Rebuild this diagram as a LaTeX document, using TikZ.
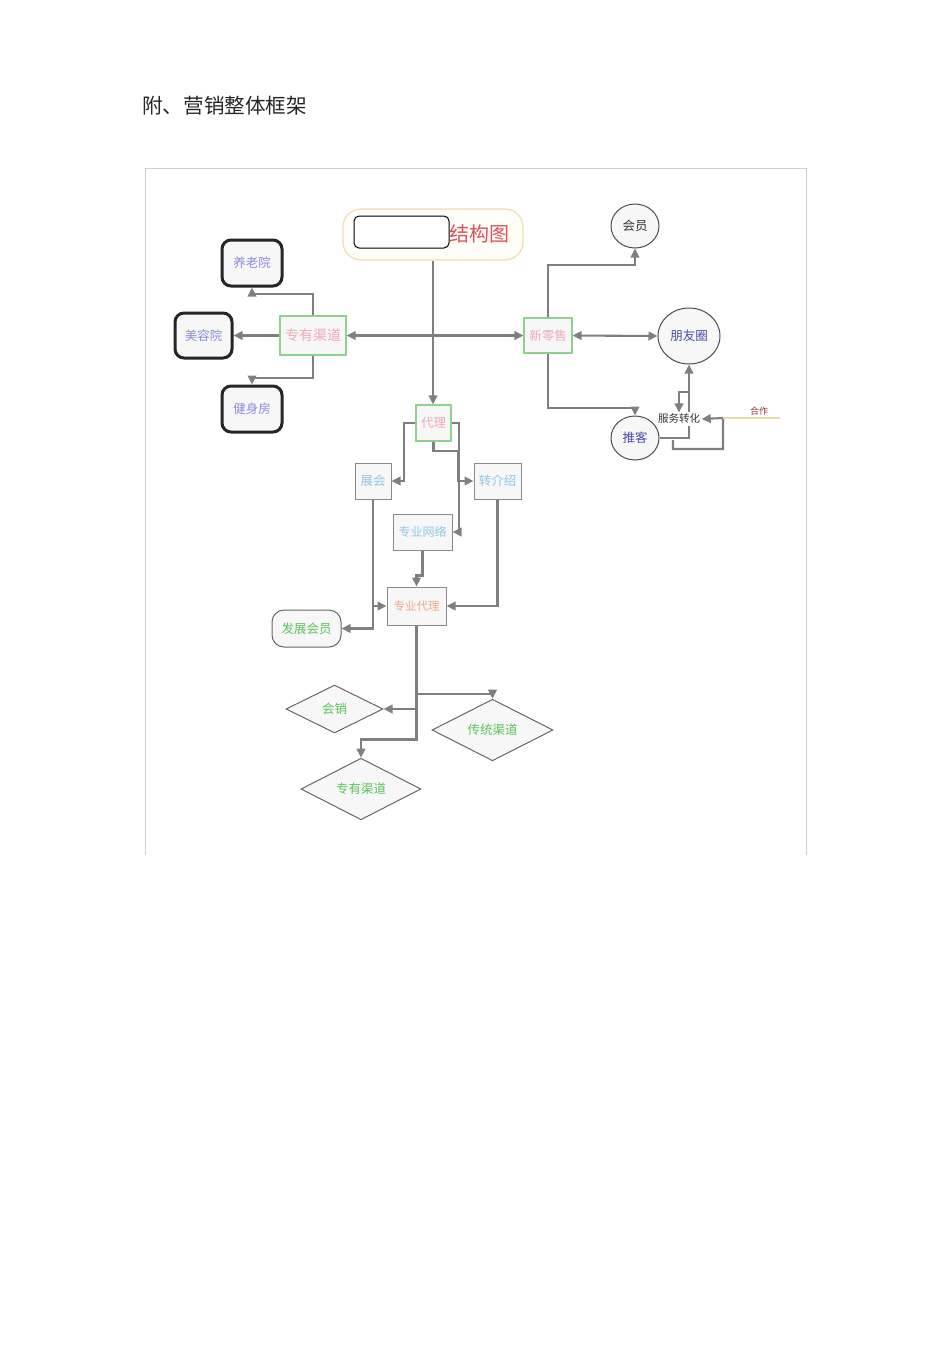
\documentclass[tikz,border=0pt]{standalone}
\usepackage{fontspec}
\setmainfont{Noto Sans CJK SC}
\usetikzlibrary{shapes.geometric,arrows.meta}
\definecolor{lnc}{HTML}{7F7F7F}
\definecolor{grnb}{HTML}{8FD18F}
\definecolor{boxf}{HTML}{F7F7F7}
\definecolor{pinkt}{HTML}{F2A7B8}
\definecolor{purt}{HTML}{8A8AE0}
\definecolor{bluet}{HTML}{8FC6E6}
\definecolor{salt}{HTML}{F2A88A}
\definecolor{grnt}{HTML}{5CC25C}
\definecolor{dpur}{HTML}{4A4AA8}
\definecolor{titr}{HTML}{E0505A}
\definecolor{titb}{HTML}{F0DCB0}
\definecolor{titf}{HTML}{FFFDF7}
\definecolor{frm}{HTML}{D0D0D0}
\definecolor{hzl}{HTML}{E8E0A0}
\definecolor{hzt}{HTML}{A03030}
\definecolor{gbord}{HTML}{8A8A8A}
\tikzset{
  x=1pt,y=-1pt,
  every node/.style={font=\fontsize{12.5}{14}\selectfont, inner sep=0pt},
  gbox/.style={draw=grnb, line width=1.2pt, fill=boxf, text=pinkt},
  qbox/.style={draw=gbord, line width=1pt, fill=boxf, text=bluet},
  thick rbox/.style={draw=black!85, line width=3pt, rounded corners=9pt, fill=boxf, text=purt, minimum width=60pt, minimum height=46pt},
  ell/.style={ellipse, draw=black!70, line width=1pt, fill=boxf},
  dia/.style={diamond, draw=black!60, line width=1pt, fill=boxf, text=grnt},
  arr/.style={draw=lnc, line width=2.1pt, -{Triangle[length=9pt,width=8.5pt]}},
  darr/.style={draw=lnc, line width=2.1pt, {Triangle[length=9pt,width=8.5pt]}-{Triangle[length=9pt,width=8.5pt]}},
  plain/.style={draw=lnc, line width=2.1pt},
}
\begin{document}
\begin{tikzpicture}
\useasboundingbox (0,0) rectangle (950,1345);
% header
\node[anchor=west, font=\fontsize{20.6}{24}\selectfont, text=black!85] (head) at (142,106) {附、营销整体框架};
% frame
\draw[frm, line width=1pt] (145,855) -- (145,168) -- (806,168) -- (806,855);
% title
\node[draw=titb, line width=1.2pt, fill=titf, rounded corners=18pt, minimum width=180pt, minimum height=51pt] (title) at (433,234.5) {};
\node[draw=black, line width=1pt, fill=white, rounded corners=5pt, minimum width=95pt, minimum height=32pt] (blank) at (401.5,232) {};
\node[text=titr, font=\fontsize{20}{24}\selectfont] (titletxt) at (479,234) {结构图};
% left branch
\node[gbox, minimum width=66pt, minimum height=39pt, font=\fontsize{14}{16}\selectfont] (zyqd) at (313,335.5) {专有渠道};
\node[thick rbox] (yly) at (252,263) {养老院};
\node[thick rbox, minimum width=57pt, minimum height=45pt] (mry) at (203.5,335.5) {美容院};
\node[thick rbox] (jsf) at (252,409) {健身房};
% right branch
\node[gbox, minimum width=48pt, minimum height=35pt] (xls) at (548,335.5) {新零售};
\node[ell, minimum width=48pt, minimum height=44pt, text=black!80] (hy) at (635,226) {会员};
\node[ell, minimum width=62pt, minimum height=56pt, text=dpur] (pyq) at (689,336) {朋友圈};
\node[ell, minimum width=48pt, minimum height=44pt, text=dpur] (tk) at (635,438) {推客};
\node[fill=white, inner sep=1.5pt, font=\fontsize{10.5}{12}\selectfont, text=black!80] (fwzh) at (679,419) {服务转化};
\node[font=\fontsize{9}{10}\selectfont, text=hzt] (hz) at (759,411) {合作};
% middle
\node[gbox, minimum width=35pt, minimum height=36pt] (daili) at (433.5,423) {代理};
\node[qbox, minimum width=36pt, minimum height=36pt] (zh) at (373,481) {展会};
\node[qbox, minimum width=47pt, minimum height=36pt] (zjs) at (497.5,481) {转介绍};
\node[qbox, minimum width=59pt, minimum height=36pt, font=\fontsize{12}{14}\selectfont] (zywl) at (422.5,532) {专业网络};
\node[qbox, minimum width=59pt, minimum height=38pt, text=salt, font=\fontsize{11.5}{14}\selectfont] (zydl) at (416.5,606) {专业代理};
\node[draw=black!60, line width=1pt, fill=boxf, rounded corners=12pt, text=grnt, minimum width=69pt, minimum height=37pt] (fzhy) at (306.5,628.5) {发展会员};
% diamonds
\node[dia, minimum width=97pt, minimum height=48pt] (hx) at (334.5,709) {会销};
\node[dia, minimum width=121pt, minimum height=60pt] (ctqd) at (492.5,730) {传统渠道};
\node[dia, minimum width=120pt, minimum height=60pt] (zyqd2) at (361,789) {专有渠道};
% connectors
\draw[arr] (title.south) -- (title.south |- daili.north);
\draw[darr] (zyqd.east) -- (xls.west);
\draw[arr] (zyqd.north) -- ++(0,-21) -| (yly.south);
\draw[arr] (zyqd.west) -- (mry.east);
\draw[arr] (zyqd.south) -- ++(0,22) -| (jsf.north);
\draw[arr] (xls.north) -- ++(0,-52) -| (hy.south);
\draw[darr] (xls.east) -- (pyq.west);
\draw[arr] (xls.south) -- ++(0,54) -| (tk.north);
\coordinate (b1) at (689,392);
\draw[arr] (pyq.south |- fwzh.north) -- (pyq.south);
\draw[arr] (b1) -| (fwzh.north);
\draw[plain] (tk.east) -| (pyq.south |- fwzh.south);
\coordinate (l1) at (673,440);
\coordinate (hzs) at (723,418);
\draw[arr] (l1) -- ++(0,9) -| (hzs) -- (fwzh.east);
\draw[hzl, line width=1.2pt] (hzs) -- ++(57,0);
\draw[arr] (daili.west) -- ++(-11,0) |- (zh.east);
\draw[arr] (daili.east) -- ++(7,0) |- (zywl.east);
\draw[arr] (daili.south) -- ++(0,9) -- ++(25,0) |- (zjs.west);
\draw[arr] (zh.south) |- (fzhy.east);
\draw[arr] (zh.south |- zydl.west) -- (zydl.west);
\draw[arr] (zywl.south) -- ++(0,25) -| (zydl.north);
\draw[arr] (zjs.south) |- (zydl.east);
\coordinate (j1) at (416.5,694);
\coordinate (j2) at (416.5,709);
\draw[arr] (zydl.south) -- ++(0,114) -| (zyqd2.north);
\draw[arr] (j1) -| (ctqd.north);
\draw[arr] (j2) -- (hx.east);
\end{tikzpicture}
\end{document}
